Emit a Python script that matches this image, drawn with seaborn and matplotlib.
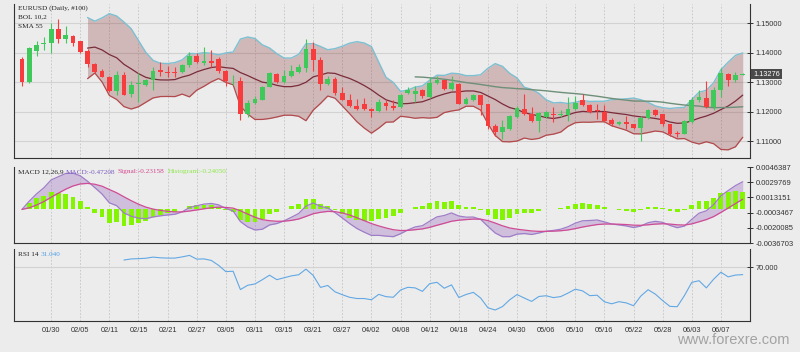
import numpy as np
import pandas as pd
import matplotlib
matplotlib.use("Agg")
import matplotlib.pyplot as plt
import matplotlib.transforms as mtransforms
import seaborn as sns

# EURUSD daily, 100 bars (2019-01-24 .. 2019-06-12)
opens = [1.1378, 1.1301, 1.1407, 1.1428, 1.1432, 1.1480, 1.1445, 1.1457, 1.1438, 1.1407,
         1.1361, 1.1339, 1.1318, 1.1270, 1.1324, 1.1259, 1.1293, 1.1289, 1.1309, 1.1341,
         1.1336, 1.1336, 1.1335, 1.1357, 1.1389, 1.1366, 1.1372, 1.1377, 1.1339, 1.1307,
         1.1305, 1.1191, 1.1230, 1.1241, 1.1284, 1.1327, 1.1301, 1.1322, 1.1335, 1.1347,
         1.1411, 1.1375, 1.1295, 1.1310, 1.1264, 1.1241, 1.1218, 1.1225, 1.1210, 1.1202,
         1.1230, 1.1218, 1.1216, 1.1264, 1.1261, 1.1273, 1.1250, 1.1298, 1.1307, 1.1278,
         1.1295, 1.1227, 1.1239, 1.1256, 1.1225, 1.1150, 1.1130, 1.1142, 1.1182, 1.1210,
         1.1191, 1.1168, 1.1182, 1.1193, 1.1188, 1.1188, 1.1210, 1.1239, 1.1222, 1.1207,
         1.1199, 1.1173, 1.1159, 1.1165, 1.1157, 1.1145, 1.1180, 1.1207, 1.1191, 1.1157,
         1.1127, 1.1125, 1.1165, 1.1239, 1.1248, 1.1216, 1.1273, 1.1327, 1.1309, 1.1326]
highs = [1.1386, 1.1418, 1.1441, 1.1452, 1.1500, 1.1514, 1.1489, 1.1460, 1.1441, 1.1411,
         1.1364, 1.1343, 1.1320, 1.1337, 1.1335, 1.1303, 1.1332, 1.1311, 1.1352, 1.1369,
         1.1355, 1.1352, 1.1360, 1.1403, 1.1398, 1.1418, 1.1409, 1.1384, 1.1341, 1.1323,
         1.1318, 1.1239, 1.1252, 1.1286, 1.1335, 1.1330, 1.1341, 1.1358, 1.1361, 1.1445,
         1.1437, 1.1386, 1.1320, 1.1318, 1.1282, 1.1259, 1.1244, 1.1248, 1.1214, 1.1244,
         1.1241, 1.1239, 1.1259, 1.1282, 1.1286, 1.1278, 1.1318, 1.1320, 1.1309, 1.1320,
         1.1298, 1.1250, 1.1259, 1.1258, 1.1227, 1.1157, 1.1173, 1.1188, 1.1218, 1.1261,
         1.1216, 1.1199, 1.1202, 1.1216, 1.1207, 1.1250, 1.1252, 1.1261, 1.1227, 1.1225,
         1.1222, 1.1180, 1.1168, 1.1184, 1.1159, 1.1184, 1.1210, 1.1210, 1.1193, 1.1159,
         1.1136, 1.1173, 1.1250, 1.1275, 1.1305, 1.1282, 1.1347, 1.1332, 1.1335, 1.1330]
lows = [1.1286, 1.1298, 1.1389, 1.1409, 1.1400, 1.1434, 1.1434, 1.1424, 1.1398, 1.1352,
        1.1332, 1.1316, 1.1267, 1.1256, 1.1256, 1.1250, 1.1233, 1.1286, 1.1275, 1.1320,
        1.1318, 1.1316, 1.1332, 1.1352, 1.1364, 1.1358, 1.1352, 1.1332, 1.1286, 1.1289,
        1.1173, 1.1182, 1.1225, 1.1239, 1.1282, 1.1298, 1.1298, 1.1318, 1.1332, 1.1335,
        1.1339, 1.1273, 1.1290, 1.1258, 1.1239, 1.1216, 1.1207, 1.1205, 1.1182, 1.1199,
        1.1205, 1.1207, 1.1214, 1.1259, 1.1233, 1.1248, 1.1248, 1.1295, 1.1275, 1.1275,
        1.1225, 1.1225, 1.1235, 1.1188, 1.1142, 1.1116, 1.1108, 1.1139, 1.1180, 1.1188,
        1.1165, 1.1131, 1.1180, 1.1165, 1.1182, 1.1170, 1.1205, 1.1218, 1.1195, 1.1176,
        1.1165, 1.1153, 1.1156, 1.1142, 1.1142, 1.1102, 1.1176, 1.1184, 1.1153, 1.1119,
        1.1114, 1.1123, 1.1161, 1.1233, 1.1214, 1.1205, 1.1250, 1.1286, 1.1301, 1.1324]
closes = [1.1301, 1.1415, 1.1426, 1.1434, 1.1480, 1.1445, 1.1459, 1.1434, 1.1401, 1.1360,
          1.1335, 1.1318, 1.1270, 1.1326, 1.1258, 1.1290, 1.1298, 1.1309, 1.1339, 1.1334,
          1.1332, 1.1332, 1.1357, 1.1389, 1.1368, 1.1372, 1.1364, 1.1339, 1.1305, 1.1309,
          1.1191, 1.1230, 1.1242, 1.1282, 1.1330, 1.1301, 1.1320, 1.1339, 1.1350, 1.1411,
          1.1375, 1.1295, 1.1312, 1.1264, 1.1241, 1.1220, 1.1210, 1.1210, 1.1201, 1.1233,
          1.1218, 1.1214, 1.1256, 1.1273, 1.1270, 1.1252, 1.1298, 1.1307, 1.1278, 1.1298,
          1.1227, 1.1244, 1.1256, 1.1222, 1.1150, 1.1131, 1.1148, 1.1184, 1.1214, 1.1191,
          1.1168, 1.1195, 1.1199, 1.1188, 1.1193, 1.1210, 1.1230, 1.1222, 1.1199, 1.1201,
          1.1168, 1.1157, 1.1165, 1.1159, 1.1145, 1.1180, 1.1207, 1.1188, 1.1157, 1.1125,
          1.1123, 1.1168, 1.1239, 1.1250, 1.1216, 1.1273, 1.1332, 1.1309, 1.1324, 1.13276]

date_ticks = ["01/30", "02/05", "02/11", "02/15", "02/21", "02/27", "03/05", "03/11",
              "03/15", "03/21", "03/27", "04/02", "04/08", "04/12", "04/18", "04/24",
              "04/30", "05/06", "05/10", "05/16", "05/22", "05/28", "06/03", "06/07"]
price_ticks = [1.11, 1.12, 1.13, 1.14, 1.15]
macd_ticks = [-0.0036703, -0.0020085, -0.0003467, 0.0013151, 0.0029769, 0.0046387]
rsi_ticks = [70]

df = pd.DataFrame({"open": opens, "high": highs, "low": lows, "close": closes})
df["x"] = np.arange(len(df))

# indicators as named on the chart: BOL 10,2 / SMA 55 / MACD 12,26,9 / RSI 14
df["mid"] = df["close"].rolling(10).mean()
sd = df["close"].rolling(10).std()
df["upper"] = df["mid"] + 2 * sd
df["lower"] = df["mid"] - 2 * sd
df["sma55"] = df["close"].rolling(55).mean()
ema12 = df["close"].ewm(span=12, adjust=False).mean()
ema26 = df["close"].ewm(span=26, adjust=False).mean()
df["macd"] = ema12 - ema26
df["signal"] = df["macd"].ewm(span=9, adjust=False).mean()
df["hist"] = df["macd"] - df["signal"]
delta = df["close"].diff()
gain = delta.clip(lower=0).ewm(alpha=1 / 14, adjust=False, min_periods=14).mean()
loss = (-delta.clip(upper=0)).ewm(alpha=1 / 14, adjust=False, min_periods=14).mean()
df["rsi"] = 100 - 100 / (1 + gain / loss)

sns.set_theme(style="white")
plt.rcParams["font.family"] = ["Liberation Sans", "DejaVu Sans"]

BG = "#ececec"
W, H = 800, 352
fig = plt.figure(figsize=(8, 3.52), dpi=100, facecolor=BG)


def px_axes(top, bottom):
    return fig.add_axes([14 / W, 1 - bottom / H, 736 / W, (bottom - top) / H])


ax1 = px_axes(4, 158)
ax2 = px_axes(167, 243)
ax3 = px_axes(249, 321)

tick_pos = np.arange(4, 100, 4)
for ax in (ax1, ax2, ax3):
    ax.set_facecolor(BG)
    ax.spines["top"].set_visible(False)
    for s in ("left", "right", "bottom"):
        ax.spines[s].set_color("#333333")
        ax.spines[s].set_linewidth(0.8)
    ax.yaxis.tick_right()
    ax.set_xticks(tick_pos)
    ax.tick_params(axis="both", direction="inout", length=5, width=0.7,
                   color="#333333", labelsize=5.3, labelcolor="#333333", pad=1.5)
    ax.grid(axis="x", linestyle=(0, (2, 2)), color="#c4c4c4", linewidth=0.6)

# ---- main panel
ax1.fill_between(df["x"], df["lower"], df["upper"], color="#852a2f", alpha=0.27,
                 linewidth=0)
sns.lineplot(data=df, x="x", y="upper", ax=ax1, color="#7cc0d2", lw=1.0)
sns.lineplot(data=df, x="x", y="lower", ax=ax1, color="#b2494c", lw=0.9)
sns.lineplot(data=df, x="x", y="mid", ax=ax1, color="#7a2c3a", lw=0.9)
sns.lineplot(data=df, x="x", y="sma55", ax=ax1, color="#6e8f78", lw=1.0)

up = df["close"] >= df["open"]
col = np.where(up, "#3ec95a", "#f63c3c")
ax1.vlines(df["x"], df["low"], df["high"], colors=col, lw=0.8, zorder=3)
body_lo = np.minimum(df["open"], df["close"])
body_h = np.maximum((df["close"] - df["open"]).abs(), 0.00018)
ax1.bar(df["x"], body_h, bottom=body_lo, width=0.66, color=col, linewidth=0, zorder=4)

ax1.set_ylim(1.1043, 1.1565)
ax1.set_yticks(price_ticks)
ax1.set_yticklabels([f"{v:.5f}" for v in price_ticks])
ax1.grid(axis="y", color="#d2d2d2", linewidth=0.8)
ax1.set_xticklabels([])

last = closes[-1]
ax1.text(1.004, last, f"{last:.5f}", transform=mtransforms.blended_transform_factory(
    ax1.transAxes, ax1.transData), color="white", fontsize=5.3, va="center", ha="left",
    bbox=dict(boxstyle="square,pad=0.25", facecolor="#4a4a4a", edgecolor="none"),
    zorder=10, clip_on=False)

# ---- MACD panel
ax2.bar(df["x"], df["hist"], width=0.66, color="#84f500", linewidth=0, zorder=3)
ax2.fill_between(df["x"], df["macd"], df["signal"], color="#9a6cc0", alpha=0.35,
                 linewidth=0, zorder=2)
sns.lineplot(data=df, x="x", y="macd", ax=ax2, color="#9f7dc8", lw=0.9, zorder=4)
sns.lineplot(data=df, x="x", y="signal", ax=ax2, color="#cf4b95", lw=0.9, zorder=4)
ax2.set_ylim(macd_ticks[0], macd_ticks[-1])
ax2.set_yticks(macd_ticks)
ax2.set_yticklabels([f"{v:.7f}" for v in macd_ticks])
ax2.tick_params(axis="y", labelsize=5.5)
ax2.set_xticklabels([])

# ---- RSI panel
sns.lineplot(data=df, x="x", y="rsi", ax=ax3, color="#62a8e4", lw=0.8)
ax3.set_ylim(27.3, 84.5)
ax3.set_yticks(rsi_ticks)
ax3.set_yticklabels(["70.000"])
ax3.grid(axis="y", color="#d2d2d2", linewidth=0.8)
ax3.set_xticklabels(date_ticks)

for ax in (ax1, ax2, ax3):
    ax.set_xlim(-1.1, 100)
    ax.set_xlabel("")
    ax.set_ylabel("")

# ---- panel captions
lab_font = ["Liberation Serif", "DejaVu Serif"]
renderer = fig.canvas.get_renderer()


def caption_row(y_px, parts):
    # parts: (x_px, text, colour); each piece starts at its x or just after the previous
    x_next = 0
    for x_px, txt, c in parts:
        x0 = max(x_px, x_next)
        t = fig.text(x0 / W, 1 - y_px / H, txt, fontsize=5.2, family=lab_font,
                     color=c, va="center")
        x_next = t.get_window_extent(renderer).x1 + 2.5


caption_row(8, [(18, "EURUSD (Daily, #100)", "#222222")])
caption_row(17, [(18, "BOL 10,2", "#222222")])
caption_row(26, [(18, "SMA 55", "#222222")])
caption_row(172, [(18, "MACD 12,26,9", "#222222"), (62, "MACD:-0.47208", "#7b5cc0"),
                  (110, "Signal:-0.23158", "#d0468c"),
                  (163, "Histogram:-0.24050", "#8ee84a")])
caption_row(255, [(18, "RSI 14", "#222222"), (41, "31.040", "#4f9fe6")])

fig.text(677 / W, 1 - 340 / H, "www.forexre.com", fontsize=10.5, color="#a3a3a3",
         va="center", family=["Liberation Sans", "DejaVu Sans"])

fig.savefig("out.png", dpi=100, facecolor=BG)
